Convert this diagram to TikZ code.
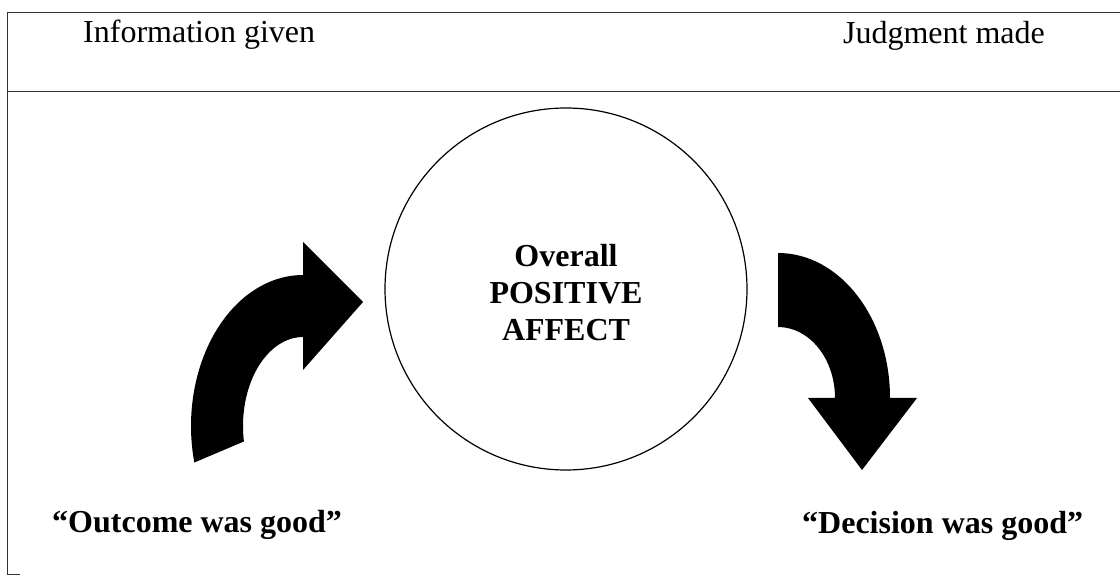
\documentclass[tikz,border=0pt]{standalone}
\usepackage{fontspec}
\setmainfont{Liberation Serif}
\usepackage{tikz}
\usetikzlibrary{positioning}
\tikzset{
  head_text/.style={inner sep=0pt, font=\fontsize{32}{37}\selectfont},
  quote_text/.style={inner sep=0pt, font=\fontsize{32}{37}\selectfont\bfseries},
  frame_line/.style={line width=1pt, black!80}
}

\begin{document}
\begin{tikzpicture}[x=1pt,y=1pt]
\useasboundingbox (0,0) rectangle (1120,576);
\coordinate (top_l) at (7,563);
\coordinate (top_r) at (1120,563);
\coordinate (mid_l) at (7,484);
\coordinate (mid_r) at (1120,484);
\coordinate (bot_l) at (7,1);
\coordinate (bot_t) at (20,1);
\draw[frame_line] (top_l) -- (top_r);
\draw[frame_line] (mid_l) -- (mid_r);
\draw[frame_line] (top_l) -- (bot_l) -- (bot_t);
\node[head_text, anchor=base west] (info_given) at (83,533) {Information given};
\node[head_text, anchor=base east] (judgment_made) at (1045,532) {Judgment made};
\draw[line width=1.2pt] (566,287) circle (181);
\node[quote_text, align=center] (affect) at (566,283) {Overall\\POSITIVE\\AFFECT};
\coordinate (lc) at (303,150);
\fill ([shift={(194:112 and 151)}]lc) arc[start angle=194, end angle=90, x radius=112, y radius=151]
  -- (303,334) -- (363,274) -- (303,206) -- (303,239)
  arc[start angle=90, end angle=190, x radius=60, y radius=89] -- cycle;
\coordinate (rc) at (778,178);
\fill (778,323) arc[start angle=90, end angle=0, x radius=112, y radius=145]
  -- (917,178) -- (862,106) -- (808,178) -- (835,178)
  arc[start angle=0, end angle=90, x radius=57, y radius=71] -- cycle;
\node[quote_text, anchor=base west] (outcome_good) at (52,43) {``Outcome was good''};
\node[quote_text, anchor=base west] (decision_good) at (802,42) {``Decision was good''};
\end{tikzpicture}
\end{document}
